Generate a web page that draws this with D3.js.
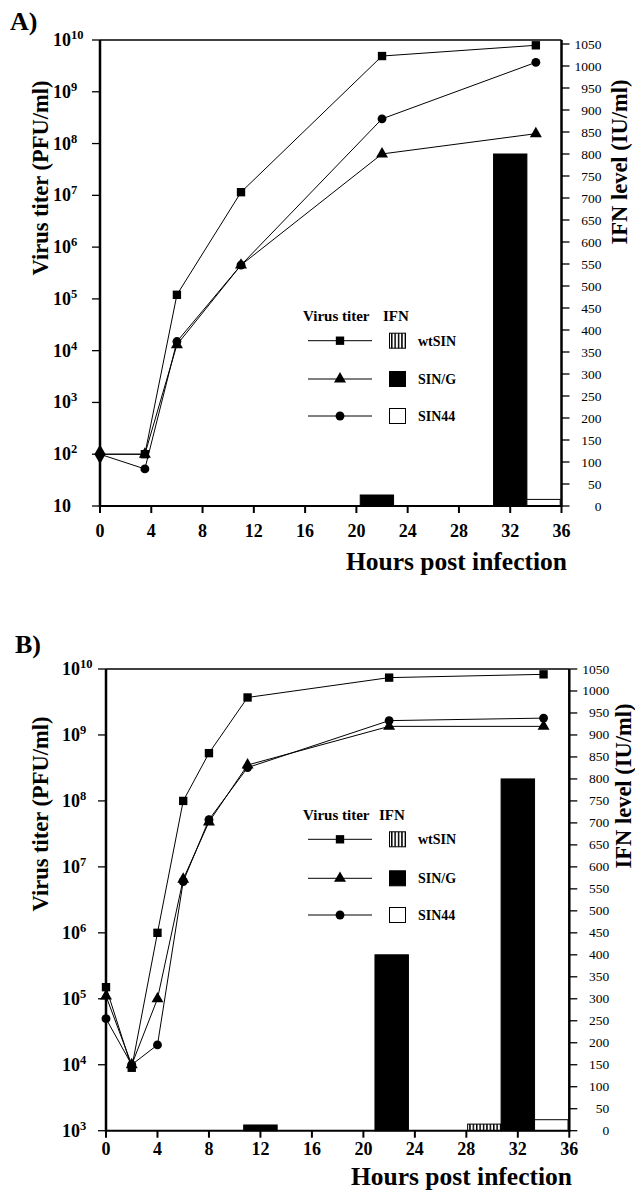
<!DOCTYPE html>
<html><head><meta charset="utf-8">
<script src="https://cdn.jsdelivr.net/npm/d3@7"></script>
<style>
body{margin:0;background:#fff}
svg{display:block}
text{font-family:"Liberation Serif","Times New Roman",serif;fill:#000}
</style>
</head><body>
<svg id="c" width="635" height="1190"></svg>
<script>
// ---------- DATA ----------
const seriesNames = ["wtSIN", "SIN/G", "SIN44"];
const xTicks = [0, 4, 8, 12, 16, 20, 24, 28, 32, 36];
const ifnTicks = d3.range(0, 1051, 50);
const titerExpA = [1, 2, 3, 4, 5, 6, 7, 8, 9, 10];
const titerExpB = [3, 4, 5, 6, 7, 8, 9, 10];

// Panel A: virus titer (PFU/ml)
const timesA = [0, 3.5, 6, 11, 22, 34];
const wtSIN_A = [100, 100, 1.2e5, 1.15e7, 4.9e9, 7.9e9];
const SING_A  = [100, 100, 1.3e4, 4.5e5, 6.3e7, 1.55e8];
const SIN44_A = [100, 52, 1.5e4, 4.5e5, 3.0e8, 3.7e9];
// Panel A: IFN (IU/ml)
const ifnTimesA = [21.6, 32];
const ifnWtSIN_A = [0, 0];
const ifnSING_A  = [25, 800];
const ifnSIN44_A = [0, 15];

// Panel B: virus titer (PFU/ml)
const timesB = [0, 2, 4, 6, 8, 11, 22, 34];
const wtSIN_B = [1.5e5, 9e3, 1.0e6, 1.0e8, 5.3e8, 3.7e9, 7.4e9, 8.3e9];
const SING_B  = [1.1e5, 1.0e4, 1.0e5, 6.5e6, 4.8e7, 3.5e8, 1.35e9, 1.35e9];
const SIN44_B = [5.0e4, 1.0e4, 2.0e4, 6.0e6, 5.2e7, 3.2e8, 1.65e9, 1.8e9];
// Panel B: IFN (IU/ml)
const ifnTimesB = [12, 22.2, 32];
const ifnWtSIN_B = [0, 0, 15];
const ifnSING_B  = [13, 400, 800];
const ifnSIN44_B = [0, 0, 25];

// ---------- DRAWING ----------
const svg = d3.select("#c");
const defs = svg.append("defs");
const pat = defs.append("pattern").attr("id", "vstripe").attr("patternUnits", "userSpaceOnUse")
  .attr("width", 3.4).attr("height", 10);
pat.append("rect").attr("width", 3.4).attr("height", 10).attr("fill", "#fff");
pat.append("rect").attr("x", 0).attr("width", 1.5).attr("height", 10).attr("fill", "#000");
const fills = ["url(#vstripe)", "#000", "#fff"];
const symbols = [d3.symbolSquare, d3.symbolTriangle, d3.symbolCircle];
const symSizes = [70, 62, 62];
const barW = 2.6; // hours

function panel(cfg) {
  const g = svg.append("g");
  const x = d3.scaleLinear().domain([0, 36]).range([cfg.left, cfg.right]);
  const y = d3.scaleLog().domain([Math.pow(10, cfg.exps[0]), 1e10]).range([cfg.bottom, cfg.top]);
  const yr = d3.scaleLinear().domain([0, 1050]).range([cfg.bottom, cfg.rTop]);

  // IFN bars
  cfg.ifnTimes.forEach((t, i) => {
    cfg.ifn.forEach((vals, k) => {
      const v = vals[i];
      if (!v) return;
      const x0 = t + (k - 1) * barW - barW / 2;
      g.append("rect")
        .attr("x", x(x0)).attr("width", x(x0 + barW) - x(x0))
        .attr("y", yr(v)).attr("height", yr(0) - yr(v))
        .attr("fill", fills[k]).attr("stroke", "#000").attr("stroke-width", 1);
    });
  });

  // frame
  g.append("line").attr("x1", cfg.left).attr("x2", cfg.right).attr("y1", cfg.top).attr("y2", cfg.top)
    .attr("stroke", "#000").attr("stroke-width", 1.5);
  g.append("line").attr("x1", cfg.left).attr("x2", cfg.right).attr("y1", cfg.bottom).attr("y2", cfg.bottom)
    .attr("stroke", "#000").attr("stroke-width", 2);
  g.append("line").attr("x1", cfg.left).attr("x2", cfg.left).attr("y1", cfg.top).attr("y2", cfg.bottom + 1)
    .attr("stroke", "#000").attr("stroke-width", 2.5);
  g.append("line").attr("x1", cfg.right).attr("x2", cfg.right).attr("y1", cfg.top).attr("y2", cfg.bottom + 1)
    .attr("stroke", "#000").attr("stroke-width", 2.5);

  // left axis (log)
  cfg.exps.forEach(e => {
    const yy = y(Math.pow(10, e));
    g.append("line").attr("x1", cfg.left - 8).attr("x2", cfg.left).attr("y1", yy).attr("y2", yy)
      .attr("stroke", "#000").attr("stroke-width", 1.3);
    const t = g.append("text").attr("x", cfg.leftLabelX).attr("y", yy + 6)
      .attr("font-size", 18).attr("font-weight", "bold").text("10");
    if (e !== 1) t.append("tspan").attr("dy", -7).attr("font-size", 12.5).text(e);
  });

  // right axis (linear)
  ifnTicks.forEach(v => {
    const yy = yr(v);
    g.append("line").attr("x1", cfg.right).attr("x2", cfg.right + 8).attr("y1", yy).attr("y2", yy)
      .attr("stroke", "#000").attr("stroke-width", 1.3);
    g.append("text").attr("x", cfg.right + 40).attr("y", yy + 4.5).attr("text-anchor", "end")
      .attr("font-size", 13.5).text(v);
  });

  // x axis
  xTicks.forEach(v => {
    g.append("line").attr("x1", x(v)).attr("x2", x(v)).attr("y1", cfg.bottom).attr("y2", cfg.bottom + 7)
      .attr("stroke", "#000").attr("stroke-width", 2);
    g.append("text").attr("x", x(v)).attr("y", cfg.xLabelY).attr("text-anchor", "middle")
      .attr("font-size", 18).attr("font-weight", "bold").text(v);
  });

  // titles
  g.append("text").attr("transform", `translate(${cfg.yTitle[0]},${cfg.yTitle[1]}) rotate(-90)`)
    .attr("text-anchor", "middle").attr("dominant-baseline", "central")
    .attr("font-size", 22.5).attr("font-weight", "bold").text("Virus titer (PFU/ml)");
  g.append("text").attr("transform", `translate(${cfg.rTitle[0]},${cfg.rTitle[1]}) rotate(-90)`)
    .attr("text-anchor", "middle").attr("dominant-baseline", "central")
    .attr("font-size", 22.5).attr("font-weight", "bold").text("IFN level (IU/ml)");
  g.append("text").attr("x", cfg.xTitle[0]).attr("y", cfg.xTitle[1]).attr("text-anchor", "end")
    .attr("font-size", 25.5).attr("font-weight", "bold").text("Hours post infection");
  g.append("text").attr("x", cfg.label[0]).attr("y", cfg.label[1])
    .attr("font-size", 26).attr("font-weight", "bold").text(cfg.name);

  // virus titer lines
  const line = d3.line().x(d => x(d[0])).y(d => y(d[1]));
  cfg.titers.forEach(vals => {
    g.append("path").datum(cfg.times.map((t, i) => [t, vals[i]]))
      .attr("d", line).attr("fill", "none").attr("stroke", "#000").attr("stroke-width", 1);
  });
  // markers (points shared by all series drawn as one diamond)
  cfg.times.forEach((t, i) => {
    const vs = cfg.titers.map(s => s[i]);
    if (vs.every(v => v === vs[0])) {
      g.append("path").attr("d", d3.symbol(d3.symbolDiamond, 110)())
        .attr("transform", `translate(${x(t)},${y(vs[0])})`).attr("fill", "#000");
      return;
    }
    [0, 1, 2].forEach(k => {
      g.append("path").attr("d", d3.symbol(symbols[k], symSizes[k])())
        .attr("transform", `translate(${x(t)},${y(vs[k])})`).attr("fill", "#000");
    });
  });

  // legend
  const L = cfg.legend;
  g.append("text").attr("x", L.x).attr("y", L.hy).attr("font-size", 15).attr("font-weight", "bold").text("Virus titer");
  g.append("text").attr("x", L.ifnX).attr("y", L.hy).attr("font-size", 15).attr("font-weight", "bold").text("IFN");
  seriesNames.forEach((s, k) => {
    const ry = L.rows[k];
    g.append("line").attr("x1", L.x + 5).attr("x2", L.x + 69).attr("y1", ry).attr("y2", ry)
      .attr("stroke", "#000").attr("stroke-width", 1);
    g.append("path").attr("d", d3.symbol(symbols[k], symSizes[k])())
      .attr("transform", `translate(${L.x + 37},${ry})`).attr("fill", "#000");
    g.append("rect").attr("x", 389.5).attr("y", ry - 7.5).attr("width", 16).attr("height", 15)
      .attr("fill", fills[k]).attr("stroke", "#000").attr("stroke-width", 1);
    g.append("text").attr("x", 418).attr("y", ry + 5).attr("font-size", 14).attr("font-weight", "bold").text(s);
  });
}

panel({
  name: "A)", label: [10, 30],
  left: 100, right: 561.5, top: 40, bottom: 506, rTop: 44,
  exps: titerExpA, leftLabelX: 53, xLabelY: 537,
  yTitle: [40, 178], rTitle: [619, 162], xTitle: [567, 570],
  times: timesA, titers: [wtSIN_A, SING_A, SIN44_A],
  ifnTimes: ifnTimesA, ifn: [ifnWtSIN_A, ifnSING_A, ifnSIN44_A],
  legend: { x: 303, hy: 321, ifnX: 383, rows: [340.7, 379, 416] }
});
panel({
  name: "B)", label: [15, 653],
  left: 106, right: 569.3, top: 669, bottom: 1130.7, rTop: 669,
  exps: titerExpB, leftLabelX: 62, xLabelY: 1155,
  yTitle: [40, 814], rTitle: [623, 786], xTitle: [572, 1185],
  times: timesB, titers: [wtSIN_B, SING_B, SIN44_B],
  ifnTimes: ifnTimesB, ifn: [ifnWtSIN_B, ifnSING_B, ifnSIN44_B],
  legend: { x: 303, hy: 820, ifnX: 379, rows: [839.3, 878.3, 915] }
});
</script>
</body></html>
